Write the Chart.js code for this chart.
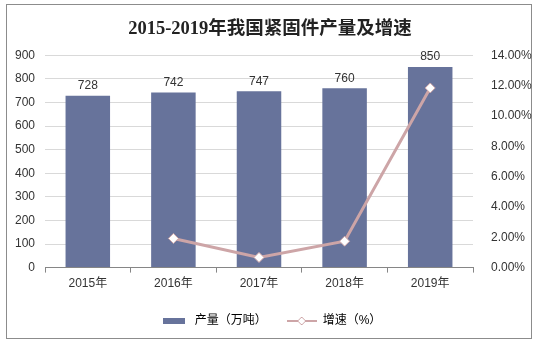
<!DOCTYPE html>
<html>
<head>
<meta charset="utf-8">
<script src="https://cdn.jsdelivr.net/npm/chart.js@4/dist/chart.umd.min.js"></script>
<style>
  body { margin: 0; background: #fff; }
  #wrap { width: 540px; height: 343px; }
</style>
</head>
<body>
<div id="wrap"><canvas id="fastenerChart" width="540" height="343"></canvas></div>
<script>
// Output (10k tonnes) and year-on-year growth (%)
const years = ['2015年', '2016年', '2017年', '2018年', '2019年'];
const output = [728, 742, 747, 760, 850];
const growth = [null, 1.92, 0.67, 1.74, 11.84];

const BAR_COLOR = '#67739b';
const LINE_COLOR = '#cda5a7';
const FONT = '"Liberation Sans", Arial, "Noto Sans CJK SC", sans-serif';

// legend swatches
function barSwatch() {
    const c = document.createElement('canvas');
    c.width = 22; c.height = 6;
    const g = c.getContext('2d');
    g.fillStyle = BAR_COLOR;
    g.fillRect(0, 0, 22, 6);
    return c;
}
function lineSwatch() {
    const c = document.createElement('canvas');
    c.width = 30; c.height = 12;
    const g = c.getContext('2d');
    g.strokeStyle = LINE_COLOR;
    g.lineWidth = 2;
    g.beginPath(); g.moveTo(0, 6); g.lineTo(30, 6); g.stroke();
    g.beginPath();
    g.moveTo(15, 2); g.lineTo(19, 6); g.lineTo(15, 10); g.lineTo(11, 6); g.closePath();
    g.fillStyle = '#fff'; g.fill();
    g.lineWidth = 1; g.stroke();
    return c;
}

// white background + outer frame
const framePlugin = {
    id: 'frame',
    beforeDraw(chart) {
        const c = chart.ctx;
        c.save();
        c.fillStyle = '#fff';
        c.fillRect(0, 0, chart.width, chart.height);
        c.strokeStyle = '#8c8c8c';
        c.lineWidth = 1;
        c.strokeRect(6.5, 4.5, 525, 334);
        c.restore();
    }
};

// value labels above bars (bar dataset is index 1)
const barLabels = {
    id: 'barLabels',
    afterDatasetsDraw(chart) {
        const c = chart.ctx;
        const meta = chart.getDatasetMeta(1);
        c.save();
        c.font = '12px ' + FONT;
        c.fillStyle = '#333';
        c.textAlign = 'center';
        c.textBaseline = 'bottom';
        meta.data.forEach((bar, i) => {
            c.fillText(output[i], bar.x, bar.y - 4);
        });
        c.restore();
    }
};

new Chart(document.getElementById('fastenerChart'), {
    type: 'bar',
    data: {
        labels: years,
        datasets: [{
            type: 'line',
            label: '增速（%）',
            data: growth,
            yAxisID: 'y1',
            borderColor: LINE_COLOR,
            borderWidth: 3,
            pointStyle: 'rectRot',
            pointRadius: 5,
            pointBackgroundColor: '#fff',
            pointBorderColor: LINE_COLOR,
            pointBorderWidth: 1,
            tension: 0,
            order: 0
        }, {
            label: '产量（万吨）',
            data: output,
            yAxisID: 'y',
            backgroundColor: BAR_COLOR,
            categoryPercentage: 1,
            barPercentage: 0.52,
            order: 1
        }]
    },
    options: {
        responsive: false,
        animation: false,
        layout: { padding: { left: 0, right: 0, top: 0, bottom: 6 } },
        plugins: {
            title: {
                display: true,
                text: '2015-2019年我国紧固件产量及增速',
                color: '#222',
                font: { family: '"Liberation Serif", "Noto Sans CJK SC", serif', size: 18.5, weight: 'bold' },
                padding: { top: 18, bottom: 15 }
            },
            legend: {
                position: 'bottom',
                labels: {
                    usePointStyle: true,
                    pointStyleWidth: 30,
                    color: '#333',
                    font: { family: FONT, size: 12 },
                    padding: 20,
                    generateLabels(chart) {
                        return [
                            { text: '产量（万吨）', pointStyle: barSwatch(), datasetIndex: 1, fillStyle: BAR_COLOR, strokeStyle: BAR_COLOR, lineWidth: 0 },
                            { text: '增速（%）', pointStyle: lineSwatch(), datasetIndex: 0, fillStyle: '#fff', strokeStyle: LINE_COLOR, lineWidth: 0 }
                        ];
                    }
                }
            },
            tooltip: { enabled: false }
        },
        scales: {
            x: {
                grid: { offset: true, drawOnChartArea: false, tickLength: 5, color: '#868686' },
                border: { color: '#868686' },
                ticks: { color: '#333', font: { family: FONT, size: 12 }, padding: 4 }
            },
            y: {
                position: 'left',
                min: 0,
                max: 900,
                ticks: { stepSize: 100, color: '#333', font: { family: FONT, size: 12 }, padding: 10 },
                grid: { color: '#d9d9d9', drawTicks: false },
                border: { display: false },
                afterFit(scale) { scale.width = 45; }
            },
            y1: {
                position: 'right',
                min: 0,
                max: 14,
                ticks: {
                    stepSize: 2,
                    color: '#333',
                    font: { family: FONT, size: 12 },
                    padding: 18,
                    callback: v => v.toFixed(2) + '%'
                },
                grid: { display: false, drawTicks: false },
                border: { display: false },
                afterFit(scale) { scale.width = 67; }
            }
        }
    },
    plugins: [framePlugin, barLabels]
});
</script>
</body>
</html>
